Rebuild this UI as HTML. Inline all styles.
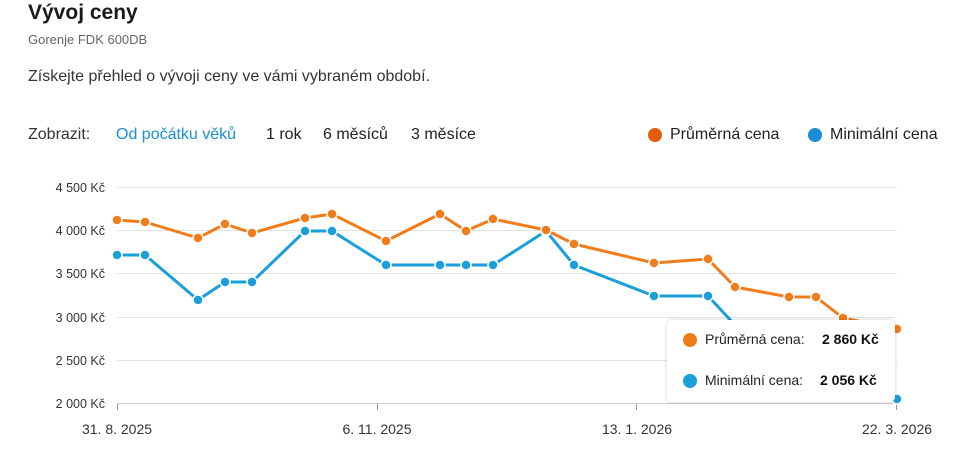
<!DOCTYPE html>
<html><head><meta charset="utf-8"><style>
body{margin:0;width:967px;height:464px;background:#fff;font-family:"Liberation Sans",sans-serif;color:#222;position:relative;overflow:hidden}
.a{position:absolute;white-space:nowrap}
</style></head><body>
<div class="a" style="left:28px;top:1px;font-size:21px;font-weight:bold;color:#1a1a1a">Vývoj ceny</div>
<div class="a" style="left:28px;top:32px;font-size:13px;color:#666">Gorenje FDK 600DB</div>
<div class="a" style="left:28px;top:68px;font-size:16px;color:#333">Získejte přehled o vývoji ceny ve vámi vybraném období.</div>
<div class="a" style="left:28px;top:126px;font-size:16px;color:#333">Zobrazit:</div>
<div class="a" style="left:116px;top:126px;font-size:16px;color:#1a8fd6">Od počátku věků</div>
<div class="a" style="left:266px;top:126px;font-size:16px;color:#222">1 rok</div>
<div class="a" style="left:323px;top:126px;font-size:16px;color:#222">6 měsíců</div>
<div class="a" style="left:411px;top:126px;font-size:16px;color:#222">3 měsíce</div>
<div class="a" style="left:648px;top:128px;width:14px;height:14px;border-radius:50%;background:#e25c0c"></div>
<div class="a" style="left:670px;top:126px;font-size:16px;color:#222">Průměrná cena</div>
<div class="a" style="left:808px;top:128px;width:14px;height:14px;border-radius:50%;background:#1a8fd6"></div>
<div class="a" style="left:830px;top:126px;font-size:16px;color:#222">Minimální cena</div>
<svg class="a" style="left:0;top:0" width="967" height="464">
<g stroke="#e3e3e3" stroke-width="1">
<line x1="117" x2="897" y1="187.5" y2="187.5"/><line x1="117" x2="897" y1="230.5" y2="230.5"/><line x1="117" x2="897" y1="273.5" y2="273.5"/><line x1="117" x2="897" y1="317.5" y2="317.5"/><line x1="117" x2="897" y1="360.5" y2="360.5"/><line x1="117" x2="897" y1="403.5" y2="403.5" stroke="#ccc"/>
</g>
<g stroke="#999"><line x1="117.5" x2="117.5" y1="404" y2="410"/><line x1="377.5" x2="377.5" y1="404" y2="410"/><line x1="636.5" x2="636.5" y1="404" y2="410"/><line x1="896.5" x2="896.5" y1="404" y2="410"/></g>
<g font-size="12.5" fill="#333" text-anchor="end" font-family="Liberation Sans">
<text x="105" y="192">4 500 Kč</text><text x="105" y="235">4 000 Kč</text><text x="105" y="278">3 500 Kč</text><text x="105" y="322">3 000 Kč</text><text x="105" y="365">2 500 Kč</text><text x="105" y="408">2 000 Kč</text>
</g>
<g font-size="14" fill="#333" text-anchor="middle" font-family="Liberation Sans">
<text x="117" y="434">31. 8. 2025</text><text x="377" y="434">6. 11. 2025</text><text x="637" y="434">13. 1. 2026</text><text x="897" y="434">22. 3. 2026</text>
</g>
<polyline fill="none" stroke="#1a9fd8" stroke-width="3" stroke-linejoin="round" points="117,255 145,255 198,300 225,282 252,282 305,231 332,231 386,265 440,265 466,265 493,265 546,231 574,265 654,296 708,296 735,325 790,365 850,385 897,399"/>
<g fill="#1a9fd8" stroke="#fff" stroke-width="1.5"><circle cx="117" cy="255" r="5"/><circle cx="145" cy="255" r="5"/><circle cx="198" cy="300" r="5"/><circle cx="225" cy="282" r="5"/><circle cx="252" cy="282" r="5"/><circle cx="305" cy="231" r="5"/><circle cx="332" cy="231" r="5"/><circle cx="386" cy="265" r="5"/><circle cx="440" cy="265" r="5"/><circle cx="466" cy="265" r="5"/><circle cx="493" cy="265" r="5"/><circle cx="546" cy="231" r="5"/><circle cx="574" cy="265" r="5"/><circle cx="654" cy="296" r="5"/><circle cx="708" cy="296" r="5"/><circle cx="897" cy="399" r="5"/></g>
<polyline fill="none" stroke="#f07c1a" stroke-width="3" stroke-linejoin="round" points="117,220 145,222 198,238 225,224 252,233 305,218 332,214 386,241 440,214 466,231 493,219 546,230 574,244 654,263 708,259 735,287 789,297 816,297 843,318 897,329"/>
<g fill="#f07c1a" stroke="#fff" stroke-width="1.5"><circle cx="117" cy="220" r="5"/><circle cx="145" cy="222" r="5"/><circle cx="198" cy="238" r="5"/><circle cx="225" cy="224" r="5"/><circle cx="252" cy="233" r="5"/><circle cx="305" cy="218" r="5"/><circle cx="332" cy="214" r="5"/><circle cx="386" cy="241" r="5"/><circle cx="440" cy="214" r="5"/><circle cx="466" cy="231" r="5"/><circle cx="493" cy="219" r="5"/><circle cx="546" cy="230" r="5"/><circle cx="574" cy="244" r="5"/><circle cx="654" cy="263" r="5"/><circle cx="708" cy="259" r="5"/><circle cx="735" cy="287" r="5"/><circle cx="789" cy="297" r="5"/><circle cx="816" cy="297" r="5"/><circle cx="843" cy="318" r="5"/><circle cx="897" cy="329" r="5"/></g>
</svg>
<div class="a" style="left:667px;top:320px;width:228px;height:82px;background:#fff;border-radius:5px;box-shadow:0 0 4px rgba(0,0,0,0.18)"></div>
<div class="a" style="left:683px;top:333px;width:14px;height:14px;border-radius:50%;background:#f07c1a"></div>
<div class="a" style="left:705px;top:331px;font-size:14px;color:#222">Průměrná cena:</div>
<div class="a" style="left:822px;top:331px;font-size:14px;font-weight:bold;color:#111">2 860 Kč</div>
<div class="a" style="left:683px;top:374px;width:14px;height:14px;border-radius:50%;background:#1a9fd8"></div>
<div class="a" style="left:705px;top:372px;font-size:14px;color:#222">Minimální cena:</div>
<div class="a" style="left:820px;top:372px;font-size:14px;font-weight:bold;color:#111">2 056 Kč</div>
</body></html>
